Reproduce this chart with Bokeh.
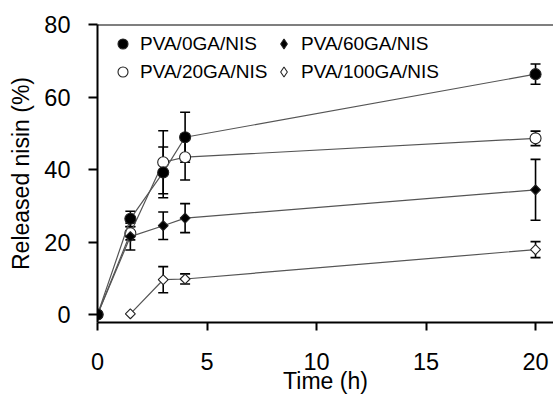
import math
from bokeh.plotting import figure
from bokeh.models import (ColumnDataSource, Whisker, TeeHead, Legend, LegendItem,
                          Span, Range1d, FixedTicker)
from bokeh.embed import file_html
from bokeh.resources import INLINE

# ---- data ----
time_h = [0, 1.5, 3, 4, 20]
time_100 = [1.5, 3, 4, 20]

ga0_y = [0, 26.4, 39.2, 48.9, 66.3]
ga0_err = [0, 2.1, 7.0, 6.9, 2.8]

ga20_y = [0, 22.4, 42.0, 43.4, 48.6]
ga20_err = [0, 1.8, 8.7, 6.3, 2.0]

ga60_y = [0, 21.5, 24.5, 26.6, 34.4]
ga60_err = [0, 3.7, 3.8, 4.0, 8.4]

ga100_y = [0.2, 9.6, 9.8, 17.9]
ga100_err = [0, 3.6, 1.4, 2.2]

x_ticks = [0, 5, 10, 15, 20]
y_ticks = [0, 20, 40, 60, 80]

labels = ["PVA/0GA/NIS", "PVA/20GA/NIS", "PVA/60GA/NIS", "PVA/100GA/NIS"]
x_label = "Time (h)"
y_label = "Released nisin (%)"

FONT = "Liberation Sans"

p = figure(width=553, height=399, output_backend="svg", toolbar_location=None,
           x_range=Range1d(0, 20.82), y_range=Range1d(-2.2, 80),
           min_border_left=97, min_border_right=0, min_border_top=24,
           min_border_bottom=77)
p.xgrid.visible = False
p.ygrid.visible = False
p.outline_line_color = None

for ax, ticks in ((p.xaxis[0], x_ticks), (p.yaxis[0], y_ticks)):
    ax.ticker = FixedTicker(ticks=ticks)
    ax.minor_tick_line_color = None
    ax.axis_line_width = 2
    ax.major_tick_line_width = 2
    ax.major_tick_in = 0
    ax.major_label_text_font = FONT
    ax.major_label_text_font_size = "23.5px"
    ax.major_label_text_color = "black"
    ax.axis_label_text_font = FONT
    ax.axis_label_text_font_size = "23px"
    ax.axis_label_text_font_style = "normal"
    ax.axis_label_text_color = "black"

p.xaxis.major_tick_out = 8
p.xaxis.major_label_standoff = 22
p.xaxis.axis_label = x_label
p.xaxis.axis_label_standoff = -5

p.yaxis.major_tick_out = 9
p.yaxis.major_label_standoff = 18
p.yaxis.axis_label = y_label
p.yaxis.axis_label_standoff = 7

p.add_layout(Span(location=80, dimension="width", line_color="black", line_width=2))

series = [
    (time_h, ga20_y, ga20_err, "circle", 11, "white", 0),
    (time_100, ga100_y, ga100_err, "square", 7, "white", math.pi / 4),
    (time_h, ga60_y, ga60_err, "square", 7, "black", math.pi / 4),
    (time_h, ga0_y, ga0_err, "circle", 11, "black", 0),
]

marker_renderers = []
for xs, ys, es, marker, size, fill, ang in series:
    src = ColumnDataSource(dict(x=xs, y=ys))
    p.line("x", "y", source=src, line_color="#555555", line_width=1.2)
    r = p.scatter("x", "y", source=src, marker=marker, size=size, angle=ang,
                  fill_color=fill, line_color="#222222", line_width=1.1)
    marker_renderers.append(r)
    ex = [x for x, e in zip(xs, es) if e > 0]
    lo = [y - e for y, e in zip(ys, es) if e > 0]
    hi = [y + e for y, e in zip(ys, es) if e > 0]
    wsrc = ColumnDataSource(dict(x=ex, lower=lo, upper=hi))
    w = Whisker(base="x", lower="lower", upper="upper", source=wsrc,
                line_color="black", line_width=1.6,
                upper_head=TeeHead(size=10, line_color="black", line_width=1.6),
                lower_head=TeeHead(size=10, line_color="black", line_width=1.6))
    p.add_layout(w)

# legend proxies (diamond shape in legend), drawn off-range
nan_src = ColumnDataSource(dict(x=[float("nan")], y=[float("nan")]))
prox60 = p.scatter("x", "y", source=nan_src, marker="diamond", fill_color="black",
                   line_color="#222222", line_width=1.1)
prox100 = p.scatter("x", "y", source=nan_src, marker="diamond", fill_color="white",
                    line_color="#222222", line_width=1.1)

def make_legend(items, loc, gsize):
    lg = Legend(items=items, location=loc, orientation="vertical",
                label_text_font=FONT, label_text_font_size="19px",
                label_text_color="black",
                glyph_width=gsize, glyph_height=gsize, label_height=25,
                label_standoff=5, spacing=3, padding=0, margin=0,
                border_line_color=None, background_fill_alpha=0)
    p.add_layout(lg)

make_legend([LegendItem(label=labels[0], renderers=[marker_renderers[3]]),
             LegendItem(label=labels[1], renderers=[marker_renderers[0]])],
            (13, 238), 25)
make_legend([LegendItem(label=labels[2], renderers=[prox60]),
             LegendItem(label=labels[3], renderers=[prox100])],
            (174, 238), 25)

open("out.html", "w").write(file_html(p, INLINE))
